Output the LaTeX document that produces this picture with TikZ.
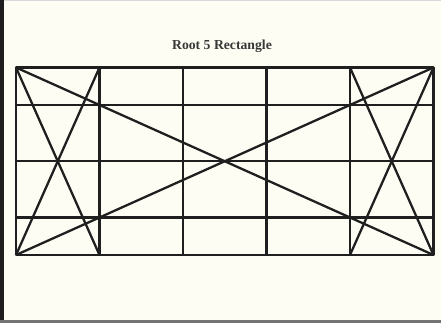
\documentclass[tikz,border=0pt]{standalone}
\usepackage{xcolor}
\usepackage{fontspec}
\setmainfont{Liberation Serif}
\definecolor{paper}{HTML}{FDFDF4}
\definecolor{frame}{HTML}{1E1E1E}
\usetikzlibrary{positioning,calc}

\begin{document}
\begin{tikzpicture}[
  x=0.02cm, y=-0.02cm,
  gridline/.style={line width=1.3pt, draw=black!88, line join=round},
  title/.style={font=\bfseries\fontsize{7.8}{9}\selectfont, text=black!78},
]
  % paper and frame
  \fill[paper] (0,0) rectangle (441,323);
  \useasboundingbox (0,0) rectangle (441,323);
  \fill[frame] (0,0) rectangle (4,323);
  \fill[black!55] (0,320) rectangle (441,323);
  \fill[black!15] (4,0) rectangle (441,1);

  \node[title] (head) at (222,46) {Root 5 Rectangle};

  \coordinate (tl) at (16,67.5);
  \coordinate (tr) at (433.5,67.5);
  \coordinate (bl) at (16,255);
  \coordinate (br) at (433.5,255);

  % grid
  \draw[gridline] (tl) rectangle (br);
  \foreach \i in {1,...,4}
    \draw[gridline] ($(tl)!\i/5!(tr)$) -- ($(bl)!\i/5!(br)$);
  \foreach \f in {0.2,0.5,0.8}
    \draw[gridline] ($(tl)!\f!(bl)$) -- ($(tr)!\f!(br)$);

  % diagonals
  \draw[gridline] (tl) -- (br);
  \draw[gridline] (bl) -- (tr);
  \draw[gridline] (tl) -- ($(bl)!0.2!(br)$);
  \draw[gridline] (bl) -- ($(tl)!0.2!(tr)$);
  \draw[gridline] (tr) -- ($(bl)!0.8!(br)$);
  \draw[gridline] (br) -- ($(tl)!0.8!(tr)$);
\end{tikzpicture}
\end{document}
